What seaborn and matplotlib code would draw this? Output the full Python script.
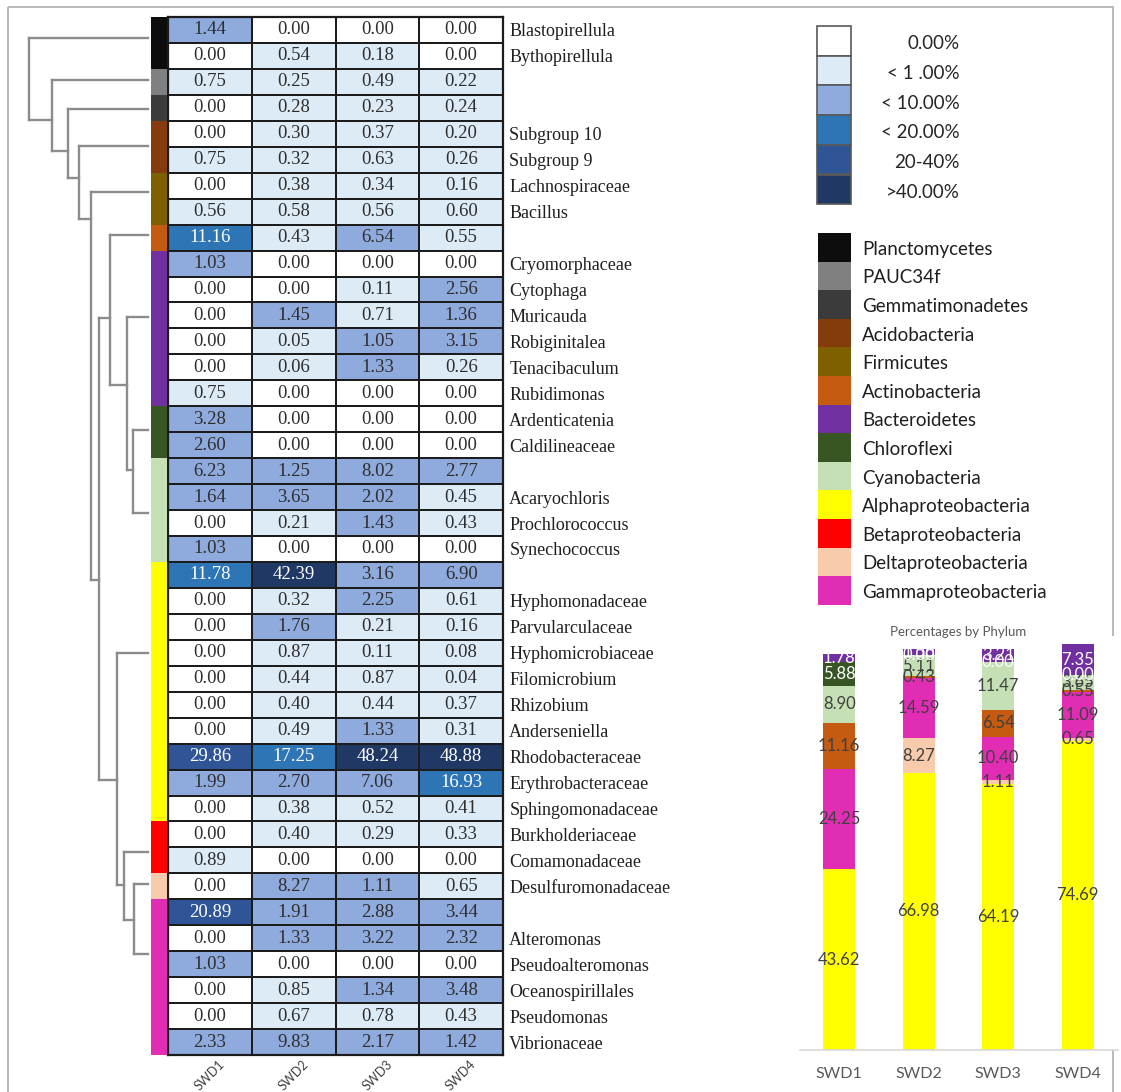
import numpy as np
import pandas as pd
import matplotlib
matplotlib.use("Agg")
import matplotlib.pyplot as plt
from matplotlib.colors import ListedColormap, BoundaryNorm
from matplotlib.patches import Rectangle
from matplotlib.transforms import ScaledTranslation
import seaborn as sns

# ---------------- data ----------------
samples = ["SWD1", "SWD2", "SWD3", "SWD4"]

taxa = [
    "Blastopirellula", "Bythopirellula", "", "", "Subgroup 10", "Subgroup 9",
    "Lachnospiraceae", "Bacillus", "", "Cryomorphaceae", "Cytophaga", "Muricauda",
    "Robiginitalea", "Tenacibaculum", "Rubidimonas", "Ardenticatenia", "Caldilineaceae",
    "", "Acaryochloris", "Prochlorococcus", "Synechococcus", "", "Hyphomonadaceae",
    "Parvularculaceae", "Hyphomicrobiaceae", "Filomicrobium", "Rhizobium", "Anderseniella",
    "Rhodobacteraceae", "Erythrobacteraceae", "Sphingomonadaceae", "Burkholderiaceae",
    "Comamonadaceae", "Desulfuromonadaceae", "", "Alteromonas", "Pseudoalteromonas",
    "Oceanospirillales", "Pseudomonas", "Vibrionaceae",
]

swd1 = [1.44, 0.00, 0.75, 0.00, 0.00, 0.75, 0.00, 0.56, 11.16, 1.03,
        0.00, 0.00, 0.00, 0.00, 0.75, 3.28, 2.60, 6.23, 1.64, 0.00,
        1.03, 11.78, 0.00, 0.00, 0.00, 0.00, 0.00, 0.00, 29.86, 1.99,
        0.00, 0.00, 0.89, 0.00, 20.89, 0.00, 1.03, 0.00, 0.00, 2.33]
swd2 = [0.00, 0.54, 0.25, 0.28, 0.30, 0.32, 0.38, 0.58, 0.43, 0.00,
        0.00, 1.45, 0.05, 0.06, 0.00, 0.00, 0.00, 1.25, 3.65, 0.21,
        0.00, 42.39, 0.32, 1.76, 0.87, 0.44, 0.40, 0.49, 17.25, 2.70,
        0.38, 0.40, 0.00, 8.27, 1.91, 1.33, 0.00, 0.85, 0.67, 9.83]
swd3 = [0.00, 0.18, 0.49, 0.23, 0.37, 0.63, 0.34, 0.56, 6.54, 0.00,
        0.11, 0.71, 1.05, 1.33, 0.00, 0.00, 0.00, 8.02, 2.02, 1.43,
        0.00, 3.16, 2.25, 0.21, 0.11, 0.87, 0.44, 1.33, 48.24, 7.06,
        0.52, 0.29, 0.00, 1.11, 2.88, 3.22, 0.00, 1.34, 0.78, 2.17]
swd4 = [0.00, 0.00, 0.22, 0.24, 0.20, 0.26, 0.16, 0.60, 0.55, 0.00,
        2.56, 1.36, 3.15, 0.26, 0.00, 0.00, 0.00, 2.77, 0.45, 0.43,
        0.00, 6.90, 0.61, 0.16, 0.08, 0.04, 0.37, 0.31, 48.88, 16.93,
        0.41, 0.33, 0.00, 0.65, 3.44, 2.32, 0.00, 3.48, 0.43, 1.42]

phyla = ["Planctomycetes", "PAUC34f", "Gemmatimonadetes", "Acidobacteria", "Firmicutes",
         "Actinobacteria", "Bacteroidetes", "Chloroflexi", "Cyanobacteria",
         "Alphaproteobacteria", "Betaproteobacteria", "Deltaproteobacteria",
         "Gammaproteobacteria"]
phylum_colors = ["#0d0d0d", "#808080", "#3b3b3b", "#843c0c", "#7f6000", "#c55a11",
                 "#7030a0", "#375623", "#c5e0b4", "#ffff00", "#ff0000", "#f8cbad",
                 "#e12cb4"]
# number of genus rows belonging to each phylum (in table order)
phylum_row_counts = [2, 1, 1, 2, 2, 1, 6, 2, 4, 10, 2, 1, 6]

abundance_bounds = [0, 0.005, 1, 10, 20, 40, 100]
abundance_colors = ["#ffffff", "#ddebf7", "#8faadc", "#2e75b6", "#2f5597", "#1f3864"]
abundance_labels = ["0.00%", "< 1 .00%", "< 10.00%", "< 20.00%", "20-40%", ">40.00%"]

# phylum-level clustering: leaf positions (table rows), merges, heights, node rows
dendro_leaf_rows = [0.82, 2.41, 3.53, 4.99, 6.73, 8.39, 11.57, 15.91, 19.11,
                    24.5, 32.17, 33.42, 36.09]
merge_left = [7, 11, 6, 10, 5, 9, 17, 4, 3, 2, 1, 0]
merge_right = [8, 12, 13, 14, 15, 16, 18, 19, 20, 21, 22, 23]
merge_height = [0.126, 0.118, 0.176, 0.20, 0.32, 0.26, 0.41, 0.48, 0.58, 0.67, 0.81, 1.0]
merge_row = [17.45, 34.8, 14.2, 33.45, 11.6, 29.4, 21.7, 7.8, 6.2, 5.15, 3.95, 2.4]

# phylum percentages per sample (stacked bars, bottom to top)
bar_phyla = ["Alphaproteobacteria", "Deltaproteobacteria", "Gammaproteobacteria",
             "Actinobacteria", "Cyanobacteria", "Chloroflexi", "Bacteroidetes"]
alpha_pct = [43.62, 66.98, 64.19, 74.69]
delta_pct = [np.nan, 8.27, 1.11, 0.65]
gamma_pct = [24.25, 14.59, 10.40, 11.09]
actino_pct = [11.16, 0.43, 6.54, 0.55]
cyano_pct = [8.90, 5.11, 11.47, 3.65]
chloro_pct = [5.88, 0.00, 0.00, 0.00]
bactero_pct = [1.78, 1.56, 3.21, 7.35]

# ---------------- style ----------------
sns.set_style("white")
plt.rcParams["font.family"] = ["Lato", "DejaVu Sans"]
SERIF = ["Liberation Serif", "DejaVu Serif"]

W, H = 1121, 1092
fig = plt.figure(figsize=(W / 100, H / 100), dpi=100)


def px_axes(x0, y0, x1, y1):
    return fig.add_axes([x0 / W, 1 - y1 / H, (x1 - x0) / W, (y1 - y0) / H])


HM_TOP, HM_BOT = 17, 1055

# ---------------- heatmap ----------------
abund = pd.DataFrame({"SWD1": swd1, "SWD2": swd2, "SWD3": swd3, "SWD4": swd4})
ax_hm = px_axes(168, HM_TOP, 503, HM_BOT)
cmap = ListedColormap(abundance_colors)
norm = BoundaryNorm(abundance_bounds, cmap.N)
sns.heatmap(abund, ax=ax_hm, cmap=cmap, norm=norm, cbar=False,
            annot=True, fmt=".2f", linewidths=1.3, linecolor="#1c1c1c",
            annot_kws={"fontsize": 13.5, "family": SERIF})
for t in ax_hm.texts:
    v = float(t.get_text())
    t.set_color("white" if v >= 10 else "#2e2e2e")
for sp in ax_hm.spines.values():
    sp.set_visible(True)
    sp.set_color("#1c1c1c")
    sp.set_linewidth(1.6)

ax_hm.set_yticks(np.arange(len(taxa)) + 0.5)
ax_hm.set_yticklabels(taxa, rotation=0, fontsize=13, family=SERIF, color="#1f1f1f")
ax_hm.tick_params(axis="y", left=False, right=False, labelleft=False,
                  labelright=True, pad=1)
ax_hm.set_xticks(np.arange(len(samples)) + 0.5)
ax_hm.set_xticklabels(samples, rotation=45, ha="right", va="center",
                      rotation_mode="anchor", fontsize=9, color="#404040")
ax_hm.tick_params(axis="x", bottom=False, pad=2)
shift = ScaledTranslation(0.13, 0, fig.dpi_scale_trans)
for lbl in ax_hm.get_xticklabels():
    lbl.set_transform(lbl.get_transform() + shift)
ax_hm.set_xlabel("")
ax_hm.set_ylabel("")

# ---------------- phylum strip ----------------
row_phylum = np.repeat(np.arange(len(phyla)), phylum_row_counts).reshape(-1, 1)
ax_strip = px_axes(151, HM_TOP, 167, HM_BOT)
sns.heatmap(row_phylum, ax=ax_strip, cmap=ListedColormap(phylum_colors),
            vmin=-0.5, vmax=len(phyla) - 0.5, cbar=False,
            xticklabels=False, yticklabels=False)

# ---------------- dendrogram ----------------
ax_dn = px_axes(10, HM_TOP, 150, HM_BOT)
ax_dn.set_xlim(1.16, -0.017)
ax_dn.set_ylim(len(taxa), 0)
ax_dn.axis("off")
node_pos = {i: (0.0, r) for i, r in enumerate(dendro_leaf_rows)}
n_leaf = len(dendro_leaf_rows)
lc = dict(color="#8c8c8c", lw=1.7, solid_capstyle="projecting")
for k, (a, b, h, r) in enumerate(zip(merge_left, merge_right, merge_height, merge_row)):
    ha_, ya = node_pos[a]
    hb_, yb = node_pos[b]
    ax_dn.plot([ha_, h], [ya, ya], **lc)
    ax_dn.plot([hb_, h], [yb, yb], **lc)
    ax_dn.plot([h, h], [ya, yb], **lc)
    node_pos[n_leaf + k] = (h, r)

# ---------------- stacked bars ----------------
pct = pd.DataFrame({
    "Alphaproteobacteria": alpha_pct, "Deltaproteobacteria": delta_pct,
    "Gammaproteobacteria": gamma_pct, "Actinobacteria": actino_pct,
    "Cyanobacteria": cyano_pct, "Chloroflexi": chloro_pct,
    "Bacteroidetes": bactero_pct}, index=samples)
cum = pct.fillna(0).cumsum(axis=1)
color_of = dict(zip(phyla, phylum_colors))

ax_bar = px_axes(799.5, 636, 1117.5, 1050)
for ph in reversed(bar_phyla):
    sns.barplot(x=samples, y=cum[ph].values, color=color_of[ph], saturation=1,
                width=0.4, ax=ax_bar, linewidth=0)
light_text = {"Bacteroidetes", "Chloroflexi"}
for ph in bar_phyla:
    for i, s in enumerate(samples):
        v = pct.loc[s, ph]
        if np.isnan(v):
            continue
        yc = cum.loc[s, ph] - v / 2
        ax_bar.text(i, yc, f"{v:.2f}", ha="center", va="center", fontsize=12,
                    color="white" if ph in light_text else "#404040")
ax_bar.set_ylim(0, 100)
ax_bar.set_xlim(-0.5, 3.5)
ax_bar.set_yticks([])
for side in ["left", "right", "top"]:
    ax_bar.spines[side].set_visible(False)
ax_bar.spines["bottom"].set_color("#d9d9d9")
ax_bar.spines["bottom"].set_linewidth(1.2)
ax_bar.tick_params(axis="x", length=0, pad=12, labelsize=11.5, labelcolor="#595959")
ax_bar.set_xlabel("")
ax_bar.set_ylabel("")
fig.text(958 / W, 1 - 632 / H, "Percentages by Phylum", ha="center", va="center",
         fontsize=9.5, color="#595959")

# ---------------- legends & frame ----------------
ax_ov = fig.add_axes([0, 0, 1, 1], zorder=-1)
ax_ov.set_xlim(0, W)
ax_ov.set_ylim(H, 0)
ax_ov.axis("off")
ax_ov.add_patch(Rectangle((8, 7), 1105, 1100, fill=False, edgecolor="#b3b3b3", lw=1.3))

box_h = 29.7
for i, (c, lab) in enumerate(zip(abundance_colors, abundance_labels)):
    y0 = 26 + i * box_h
    ax_ov.add_patch(Rectangle((817, y0), 34, box_h, facecolor=c,
                              edgecolor="#595959", lw=1.2))
    ax_ov.text(960, y0 + box_h / 2 + 3, lab, ha="right", va="center",
               fontsize=13.5, color="#262626")

box_h2 = 28.6
for i, (c, lab) in enumerate(zip(phylum_colors, phyla)):
    y0 = 233 + i * box_h2
    ax_ov.add_patch(Rectangle((818, y0), 33, box_h2, facecolor=c, lw=0))
    ax_ov.text(862, y0 + box_h2 / 2 + 2, lab, ha="left", va="center",
               fontsize=13.5, color="#1f1f1f")

fig.savefig("out.png", dpi=100)
